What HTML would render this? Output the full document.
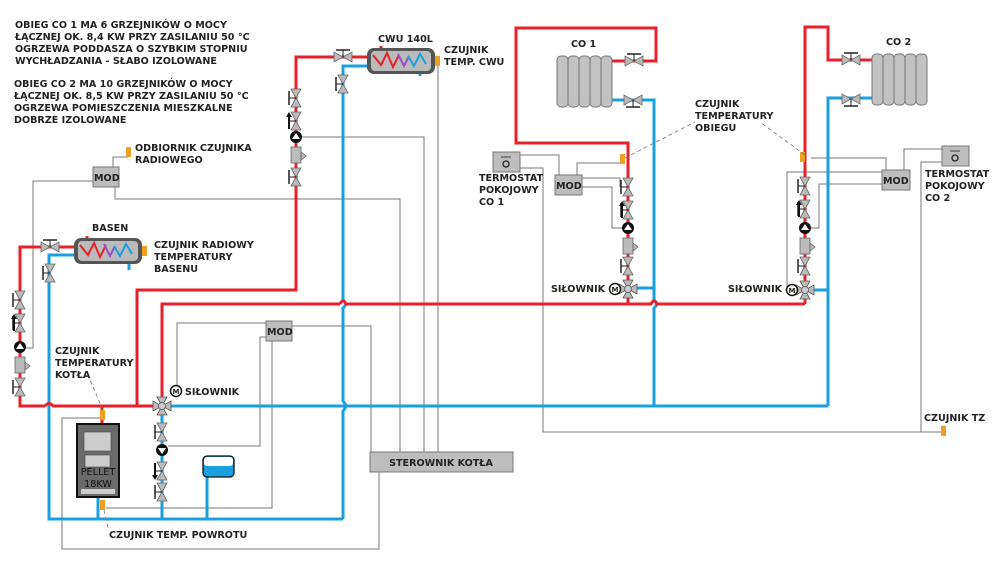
<!DOCTYPE html>
<html><head><meta charset="utf-8"><style>
html,body{margin:0;padding:0;background:#fff;}
svg{display:block;font-family:"DejaVu Sans","Liberation Sans",sans-serif;}
text{font-size:9.6px;font-weight:bold;fill:#222;}
.r{stroke:#e8202a;stroke-width:3;fill:none;}
.b{stroke:#1aa0e0;stroke-width:3;fill:none;}
.g{stroke:#777;stroke-width:1;fill:none;}
.box{fill:#bdbdbd;stroke:#777;stroke-width:1;}
</style></head><body>
<svg width="1000" height="584" viewBox="0 0 1000 584">
<defs>
<g id="vv"><polygon points="-5,-9 5,-9 0,0" fill="#bbb" stroke="#666" stroke-width="0.8"/><polygon points="-5,9 5,9 0,0" fill="#bbb" stroke="#666" stroke-width="0.8"/><line x1="-7" y1="-7" x2="-7" y2="7" stroke="#222" stroke-width="1.5"/><line x1="-7" y1="0" x2="0" y2="0" stroke="#222" stroke-width="1"/></g>
<g id="hv"><polygon points="-9,-5 -9,5 0,0" fill="#bbb" stroke="#666" stroke-width="0.8"/><polygon points="9,-5 9,5 0,0" fill="#bbb" stroke="#666" stroke-width="0.8"/><line x1="-7" y1="-7" x2="7" y2="-7" stroke="#222" stroke-width="1.5"/><line x1="0" y1="-7" x2="0" y2="0" stroke="#222" stroke-width="1"/></g>
<g id="pu"><circle r="6" fill="#111"/><polygon points="-4,2 4,2 0,-4" fill="#fff"/></g>
<g id="pd"><circle r="6" fill="#111"/><polygon points="-4,-2 4,-2 0,4" fill="#fff"/></g>
<g id="st"><rect x="-5" y="-8" width="10" height="16" fill="#bbb" stroke="#666" stroke-width="0.8"/><polygon points="5,-3 10,1 5,5" fill="#bbb" stroke="#666" stroke-width="0.8"/></g>
<g id="v3"><polygon points="-9,-5 -9,5 0,0" fill="#bbb" stroke="#555" stroke-width="0.8"/><polygon points="9,-5 9,5 0,0" fill="#bbb" stroke="#555" stroke-width="0.8"/><polygon points="-5,-9 5,-9 0,0" fill="#bbb" stroke="#555" stroke-width="0.8"/><polygon points="-5,9 5,9 0,0" fill="#bbb" stroke="#555" stroke-width="0.8"/><circle r="3.5" fill="#ccc" stroke="#555" stroke-width="0.8"/></g>
<g id="mo"><circle r="5.5" fill="#fff" stroke="#111" stroke-width="1.5"/><text x="0" y="3" text-anchor="middle" style="font-size:7px">M</text></g>
<g id="up"><line x1="0" y1="8" x2="0" y2="-6" stroke="#111" stroke-width="2"/><polygon points="-3,-4 3,-4 0,-9" fill="#111"/></g>
<g id="rad"><rect x="0" y="0" width="11" height="51" rx="4" fill="#c2c2c2" stroke="#777"/></g>
</defs>

<g class="g">
<polyline points="93,181 33,181 33,348 26,348"/>
<polyline points="115,187 115,199 400,199 400,452"/>
<polyline points="113,167 113,157 128,157"/>
<polyline points="302,137 424,137 424,452"/>
<polyline points="438,62 438,452"/>
<polyline points="102,418 62,418 62,549 379,549 379,472"/>
<polyline points="266,323 177,323 177,386"/>
<polyline points="292,326 371,326 371,452"/>
<polyline points="272,341 272,508 106,508"/>
<polyline points="266,337 260,337 260,446 168,446"/>
<polyline points="520,155 559,155 559,175"/>
<polyline points="520,168 543,168 543,432 943,432"/>
<polyline points="577,175 577,163 622,163"/>
<polyline points="582,178 620,178 620,187"/>
<polyline points="582,187 612,187 612,228 622,228"/>
<polyline points="811,158 886,158 886,170"/>
<polyline points="882,172 787,172 787,288"/>
<polyline points="882,184 819,184 819,228 811,228"/>
<polyline points="904,170 904,149 942,149"/>
<polyline points="942,162 921,162 921,432"/>
</g>

<g class="b">
<polyline points="135,255 49,255 49,519 343,519"/>
<polyline points="367,66 343,66 343,300"/>
<path d="M343,300 q5,4 0,8 L343,401 q5,5 0,10 L343,519"/>
<line x1="98" y1="519" x2="98" y2="498"/>
<line x1="162" y1="519" x2="162" y2="415"/>
<line x1="207" y1="519" x2="207" y2="476"/>
<path d="M170,406 L343,406"/>
<line x1="343" y1="406" x2="828" y2="406"/>
<polyline points="611,100 654,100 654,300"/>
<path d="M654,300 q5,4 0,8 L654,406"/>
<polyline points="654,288 634,288"/>
<polyline points="872,98 828,98 828,406"/>
<polyline points="828,290 812,290"/>
<line x1="420" y1="66" x2="420" y2="76"/>
<line x1="129" y1="262" x2="129" y2="270"/>
</g>

<g class="r">
<polyline points="367,57 296,57 296,290 137,290 137,406"/>
<polyline points="74,247 20,247 20,406 45,406"/>
<path d="M45,406 q4,-5 8,0 L160,406"/>
<line x1="102" y1="406" x2="102" y2="424"/>
<polyline points="162,400 162,304 340,304"/>
<path d="M340,304 q3,-6 6,0 L651,304 q3,-6 6,0 L805,304"/>
<line x1="805" y1="304" x2="805" y2="296"/>
<polyline points="628,295 628,143 516,143 516,28 656,28 656,61 611,61"/>
<polyline points="805,296 805,27 828,27 828,60 872,60"/>
<line x1="628" y1="304" x2="628" y2="296"/>
<line x1="381" y1="46" x2="381" y2="55"/>
<line x1="87" y1="236" x2="87" y2="244"/>
</g>

<rect x="367" y="48" width="68" height="26" rx="7" fill="#555"/>
<rect x="371" y="51" width="60" height="20" rx="4" fill="#bbb"/>
<path d="M373,55 l8,10 l6,-12 l6,14 l6,-12" stroke="#e8202a" stroke-width="2" fill="none"/>
<path d="M398,54 l6,12 l5,-10" stroke="#9b4fc8" stroke-width="2" fill="none"/>
<path d="M408,56 l6,10 l6,-12 l6,10" stroke="#1aa0e0" stroke-width="2" fill="none"/>
<rect x="435" y="56" width="5" height="10" fill="#f0a020"/>
<rect x="74" y="238" width="68" height="26" rx="7" fill="#555"/>
<rect x="78" y="241" width="60" height="20" rx="4" fill="#bbb"/>
<path d="M80,245 l8,10 l6,-12 l6,14 l6,-12" stroke="#e8202a" stroke-width="2" fill="none"/>
<path d="M104,244 l6,12 l5,-10" stroke="#9b4fc8" stroke-width="2" fill="none"/>
<path d="M114,246 l6,10 l6,-12 l6,10" stroke="#1aa0e0" stroke-width="2" fill="none"/>
<rect x="142" y="246" width="5" height="10" fill="#f0a020"/>
<rect x="126" y="147" width="5" height="10" fill="#f0a020"/>

<use href="#rad" x="557" y="56"/><use href="#rad" x="568" y="56"/><use href="#rad" x="579" y="56"/><use href="#rad" x="590" y="56"/><use href="#rad" x="601" y="56"/>
<use href="#rad" x="872" y="54"/><use href="#rad" x="883" y="54"/><use href="#rad" x="894" y="54"/><use href="#rad" x="905" y="54"/><use href="#rad" x="916" y="54"/>

<use href="#hv" x="343" y="57"/>
<g transform="translate(343,84) rotate(180)"><use href="#vv" transform="scale(-1,1)"/></g>
<use href="#hv" x="50" y="247"/>
<use href="#vv" x="50" y="273"/>
<use href="#hv" x="634" y="61"/>
<g transform="translate(633,100) scale(1,-1)"><use href="#hv"/></g>
<use href="#hv" x="851" y="60"/>
<g transform="translate(851,99) scale(1,-1)"><use href="#hv"/></g>

<use href="#vv" x="296" y="98"/><use href="#vv" x="296" y="121"/><use href="#up" x="289" y="121"/><use href="#pu" x="296" y="137"/><use href="#st" x="296" y="155"/><use href="#vv" x="296" y="177"/>
<use href="#vv" x="20" y="300"/><use href="#vv" x="20" y="323"/><use href="#up" x="14" y="323"/><use href="#pu" x="20" y="347"/><use href="#st" x="20" y="365"/><use href="#vv" x="20" y="387"/>
<use href="#vv" x="628" y="187"/><use href="#vv" x="628" y="210"/><use href="#up" x="622" y="210"/><use href="#pu" x="628" y="228"/><use href="#st" x="628" y="246"/><use href="#vv" x="628" y="266"/><use href="#v3" x="628" y="289"/><use href="#mo" x="615" y="289"/>
<use href="#vv" x="805" y="186"/><use href="#vv" x="805" y="209"/><use href="#up" x="799" y="209"/><use href="#pu" x="805" y="228"/><use href="#st" x="805" y="246"/><use href="#vv" x="805" y="266"/><use href="#v3" x="805" y="290"/><use href="#mo" x="792" y="290"/>
<use href="#v3" x="162" y="406"/><use href="#mo" x="176" y="391"/>
<use href="#vv" x="162" y="432"/><use href="#pd" x="162" y="450"/><use href="#vv" x="162" y="471"/><g transform="translate(155,471) rotate(180)"><use href="#up"/></g><use href="#vv" x="162" y="492"/>
<rect x="620" y="154" width="5" height="10" fill="#f0a020"/>
<rect x="800" y="152" width="5" height="10" fill="#f0a020"/>
<rect x="100" y="410" width="5" height="10" fill="#f0a020"/>
<rect x="100" y="500" width="5" height="10" fill="#f0a020"/>
<rect x="941" y="426" width="5" height="10" fill="#f0a020"/>
<g stroke="#777" stroke-width="0.8" stroke-dasharray="4,3" fill="none">
<line x1="625" y1="158" x2="695" y2="122"/><line x1="805" y1="155" x2="760" y2="122"/>
<line x1="103" y1="410" x2="90" y2="380"/><line x1="104" y1="510" x2="108" y2="528"/>
</g>

<rect x="77" y="424" width="42" height="73" fill="#6a6a6a" stroke="#111" stroke-width="2"/>
<rect x="84" y="432" width="27" height="19" fill="#ccc" stroke="#444" stroke-width="0.6"/>
<rect x="85" y="455" width="25" height="12" fill="#ccc" stroke="#444" stroke-width="0.6"/>
<rect x="81" y="489" width="34" height="5" fill="#ccc"/>
<text x="98" y="475" text-anchor="middle" style="font-weight:normal;fill:#111">PELLET</text>
<text x="98" y="487" text-anchor="middle" style="font-weight:normal;fill:#111">18KW</text>
<rect x="203" y="456" width="31" height="21" rx="4" fill="#1aa0e0" stroke="#111" stroke-width="1.3"/>
<rect x="204" y="457" width="29" height="9" rx="3" fill="#fff"/>

<rect class="box" x="93" y="167" width="26" height="20"/><text x="94" y="181">MOD</text>
<rect class="box" x="266" y="321" width="26" height="20"/><text x="267" y="335">MOD</text>
<rect class="box" x="555" y="175" width="27" height="20"/><text x="556" y="189">MOD</text>
<rect class="box" x="882" y="170" width="28" height="20"/><text x="883" y="184">MOD</text>
<rect class="box" x="370" y="452" width="143" height="20"/><text x="441" y="466" text-anchor="middle">STEROWNIK KOTŁA</text>
<rect class="box" x="493" y="152" width="27" height="20"/><line x1="501" y1="157" x2="511" y2="157" stroke="#444"/><circle cx="506" cy="164" r="3" fill="none" stroke="#222" stroke-width="1.3"/>
<rect class="box" x="942" y="146" width="27" height="20"/><line x1="950" y1="151" x2="960" y2="151" stroke="#444"/><circle cx="955" cy="158" r="3" fill="none" stroke="#222" stroke-width="1.3"/>

<text x="15" y="28">OBIEG CO 1 MA 6 GRZEJNIKÓW O MOCY</text>
<text x="15" y="40">ŁĄCZNEJ OK. 8,4 KW PRZY ZASILANIU 50 °C</text>
<text x="15" y="52">OGRZEWA PODDASZA O SZYBKIM STOPNIU</text>
<text x="15" y="64">WYCHŁADZANIA - SŁABO IZOLOWANE</text>
<text x="14" y="87">OBIEG CO 2 MA 10 GRZEJNIKÓW O MOCY</text>
<text x="14" y="99">ŁĄCZNEJ OK. 8,5 KW PRZY ZASILANIU 50 °C</text>
<text x="14" y="111">OGRZEWA POMIESZCZENIA MIESZKALNE</text>
<text x="14" y="123">DOBRZE IZOLOWANE</text>
<text x="135" y="151">ODBIORNIK CZUJNIKA</text>
<text x="135" y="163">RADIOWEGO</text>
<text x="378" y="42">CWU 140L</text>
<text x="444" y="53">CZUJNIK</text>
<text x="444" y="65">TEMP. CWU</text>
<text x="92" y="231">BASEN</text>
<text x="154" y="248">CZUJNIK RADIOWY</text>
<text x="154" y="260">TEMPERATURY</text>
<text x="154" y="272">BASENU</text>
<text x="55" y="354">CZUJNIK</text>
<text x="55" y="366">TEMPERATURY</text>
<text x="55" y="378">KOTŁA</text>
<text x="185" y="395">SIŁOWNIK</text>
<text x="109" y="538">CZUJNIK TEMP. POWROTU</text>
<text x="571" y="47">CO 1</text>
<text x="886" y="45">CO 2</text>
<text x="695" y="107">CZUJNIK</text>
<text x="695" y="119">TEMPERATURY</text>
<text x="695" y="131">OBIEGU</text>
<text x="479" y="181">TERMOSTAT</text>
<text x="479" y="193">POKOJOWY</text>
<text x="479" y="205">CO 1</text>
<text x="925" y="177">TERMOSTAT</text>
<text x="925" y="189">POKOJOWY</text>
<text x="925" y="201">CO 2</text>
<text x="551" y="292">SIŁOWNIK</text>
<text x="728" y="292">SIŁOWNIK</text>
<text x="924" y="421">CZUJNIK TZ</text>
</svg>
</body></html>
